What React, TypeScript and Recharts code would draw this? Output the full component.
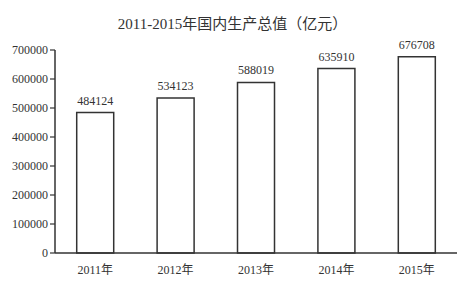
import { BarChart, Bar, XAxis, YAxis, LabelList } from 'recharts';

const years = ['2011年', '2012年', '2013年', '2014年', '2015年'];
const gdp = [484124, 534123, 588019, 635910, 676708];
const yTicks = [0, 100000, 200000, 300000, 400000, 500000, 600000, 700000];

const data = years.map((year, i) => ({ year, gdp: gdp[i] }));

const ink = '#333';
const font = '"Liberation Serif", "Noto Sans CJK SC", serif';

export default function App() {
  return (
    <div style={{ position: 'absolute', left: 0, top: 0, width: 473, height: 286, background: '#fff' }}>
      <div
        style={{
          position: 'absolute',
          left: 0,
          top: 12,
          width: 465,
          textAlign: 'center',
          fontFamily: font,
          fontSize: 15,
          color: ink,
        }}
      >
        2011-2015年国内生产总值（亿元）
      </div>
      <BarChart
        width={473}
        height={286}
        data={data}
        margin={{ top: 50, right: 16, left: 0, bottom: 8 }}
        barCategoryGap="27%"
      >
        <XAxis
          dataKey="year"
          tickLine={false}
          axisLine={{ stroke: ink, strokeWidth: 1.5 }}
          tick={{ fill: ink, fontSize: 12, fontFamily: font }}
          height={25}
          tickMargin={6}
        />
        <YAxis
          width={55}
          domain={[0, 700000]}
          ticks={yTicks}
          interval={0}
          tickSize={5}
          tickLine={{ stroke: ink, strokeWidth: 1.2 }}
          axisLine={{ stroke: ink, strokeWidth: 1.5 }}
          tick={{ fill: ink, fontSize: 12, fontFamily: font }}
          tickMargin={2}
        />
        <Bar dataKey="gdp" fill="#fff" stroke={ink} strokeWidth={1.5} isAnimationActive={false}>
          <LabelList dataKey="gdp" position="top" offset={8} fill={ink} fontSize={12} fontFamily={font} />
        </Bar>
      </BarChart>
    </div>
  );
}
